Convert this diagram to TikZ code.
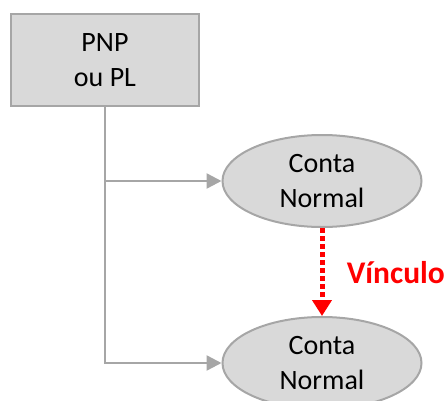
\documentclass[tikz,border=0pt]{standalone}
\usepackage{fontspec}
\setmainfont{Carlito}
\usetikzlibrary{shapes.geometric,arrows.meta}
\definecolor{boxgray}{HTML}{D9D9D9}
\definecolor{linegray}{HTML}{A6A6A6}
\begin{document}
\begin{tikzpicture}[x=1pt,y=-1pt,
    txt/.style={font=\fontsize{28}{35}\selectfont,align=center,text=black},
    origem/.style={txt,draw=linegray,fill=boxgray,line width=2.5pt,rectangle,
      minimum width=188pt,minimum height=92pt,inner sep=0pt},
    conta/.style={txt,draw=linegray,fill=boxgray,line width=2pt,ellipse,
      minimum width=199pt,minimum height=92pt,inner sep=0pt},
    seta/.style={draw=linegray,line width=2.5pt,-{Triangle[length=15pt,width=15pt]}},
    vinculo/.style={draw=red,line width=5pt,dash pattern=on 5pt off 3pt,
      -{Triangle[length=16pt,width=19pt]}}]
  \useasboundingbox (0,0) rectangle (448,400);
  \draw
    (105,60) node[origem] (pnp){PNP\\ou PL}
    (322,181) node[conta] (c1){Conta\\Normal}
    (322,363) node[conta] (c2){Conta\\Normal};
  \begin{scope}[seta]
    \draw (pnp.south) |- (c1.west);
    \draw (pnp.south) |- (c2.west);
  \end{scope}
  \draw[vinculo] (c1.south) -- (c2.north)
    node[midway,right=19pt,yshift=-1pt,text=red,font=\fontsize{31.5}{36}\selectfont\bfseries] (rot){Vínculo};
\end{tikzpicture}
\end{document}
